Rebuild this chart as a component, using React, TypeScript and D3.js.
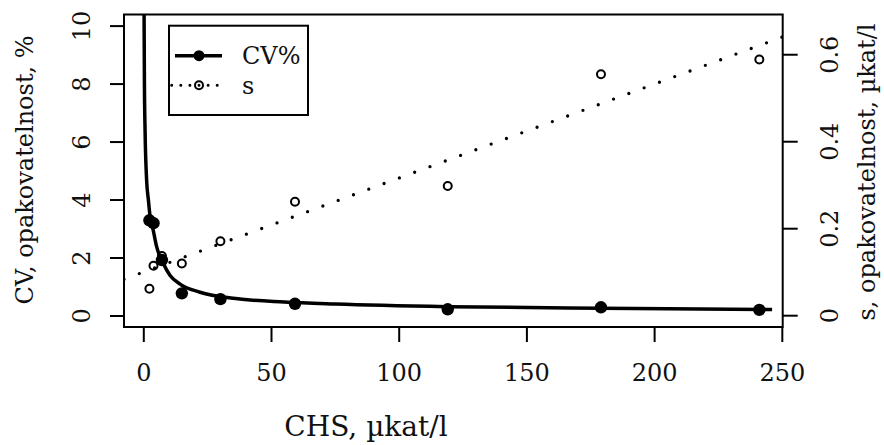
import React from 'react';
import * as d3 from 'd3';

// measured samples: CHS activity, CV% and s (repeatability)
const chs = [2.2, 3.8, 7.1, 14.9, 30, 59.2, 119, 179, 241];
const cvValues = [3.3, 3.2, 1.93, 0.78, 0.58, 0.42, 0.23, 0.3, 0.21];
const sValues = [0.062, 0.115, 0.137, 0.12, 0.171, 0.262, 0.298, 0.555, 0.589];

// fitted CV curve
const fitX = [0.1, 0.25, 0.5, 1.1, 1.8, 2.5, 3.7, 5.0, 7.6, 10.3, 14.2, 22, 36, 55, 75, 119, 179, 246];
const fitCv = [10.6, 8.0, 6.4, 4.7, 4.0, 3.4, 2.95, 2.4, 1.82, 1.4, 1.1, 0.82, 0.6, 0.48, 0.41, 0.32, 0.27, 0.22];

// regression line for s (spans the whole plot region)
const sLineX = [-7.75, 250.15];
const sLineS = [0.084, 0.641];

const xTicks = [0, 50, 100, 150, 200, 250];
const cvTicks = [0, 2, 4, 6, 8, 10];
const sTicks = [0, 0.2, 0.4, 0.6];

const legendLabels = ['CV%', 's'];

const W = 884;
const H = 445;
const box = { left: 124, top: 14.5, right: 782.7, bottom: 327 };
const FONT = "'DejaVu Serif', serif";

export default function App() {
  const x = d3.scaleLinear().domain([-7.75, 250.15]).range([box.left, box.right]);
  const yCv = d3.scaleLinear().domain([-0.38, 10.4]).range([box.bottom, box.top]);
  const yS = d3.scaleLinear().domain([-0.026, 0.6925]).range([box.bottom, box.top]);

  const fitPts = fitX.map((v, i) => [v, fitCv[i]] as [number, number]);
  const fitLine = d3.line<[number, number]>()
    .x(d => x(d[0]))
    .y(d => yCv(d[1]))
    .curve(d3.curveMonotoneX);

  const sPts = sLineX.map((v, i) => [v, sLineS[i]] as [number, number]);
  const sLine = d3.line<[number, number]>()
    .x(d => x(d[0]))
    .y(d => yS(d[1]));

  const tickLen = 15;
  const lg = { x: 169, y: 25.7, w: 139, h: 89.3 };

  return (
    <div style={{ position: 'fixed', left: 0, top: 0 }}>
      <svg width={W} height={H} viewBox={`0 0 ${W} ${H}`} style={{ display: 'block', background: '#fff' }}>
        <defs>
          <clipPath id="plotClip">
            <rect x={box.left} y={box.top} width={box.right - box.left} height={box.bottom - box.top} />
          </clipPath>
        </defs>
        <rect width={W} height={H} fill="#fff" />

        {/* x axis */}
        {xTicks.map(t => (
          <g key={'x' + t}>
            <line x1={x(t)} x2={x(t)} y1={box.bottom} y2={box.bottom + tickLen} stroke="#000" strokeWidth={2} />
            <text x={x(t)} y={381} textAnchor="middle" fontFamily={FONT} fontSize={24} fill="#111">{t}</text>
          </g>
        ))}
        <text x={366} y={436} textAnchor="middle" fontFamily={FONT} fontSize={28} fill="#111">CHS, µkat/l</text>

        {/* left axis */}
        {cvTicks.map(t => (
          <g key={'l' + t}>
            <line x1={box.left - tickLen + 1} x2={box.left} y1={yCv(t)} y2={yCv(t)} stroke="#000" strokeWidth={2} />
            <text transform={`translate(90,${yCv(t)}) rotate(-90)`} textAnchor="middle" fontFamily={FONT} fontSize={24} fill="#111">{t}</text>
          </g>
        ))}
        <text transform={`translate(33,170) rotate(-90)`} textAnchor="middle" fontFamily={FONT} fontSize={24} fill="#111">CV, opakovatelnost, %</text>

        {/* right axis */}
        {sTicks.map(t => (
          <g key={'r' + t}>
            <line x1={box.right} x2={box.right + tickLen} y1={yS(t)} y2={yS(t)} stroke="#000" strokeWidth={2} />
            <text transform={`translate(838,${yS(t)}) rotate(-90)`} textAnchor="middle" fontFamily={FONT} fontSize={24} fill="#111">{t === 0 ? '0' : t.toFixed(1)}</text>
          </g>
        ))}
        <text transform={`translate(875,172) rotate(-90)`} textAnchor="middle" fontFamily={FONT} fontSize={24} fill="#111">s, opakovatelnost, µkat/l</text>

        {/* data */}
        <g clipPath="url(#plotClip)">
          <path d={sLine(sPts) || ''} fill="none" stroke="#000" strokeWidth={3.3} strokeLinecap="round" strokeDasharray="0 16.3" />
          <path d={fitLine(fitPts) || ''} fill="none" stroke="#000" strokeWidth={3.5} />
        </g>
        {chs.map((v, i) => (
          <circle key={'cv' + i} cx={x(v)} cy={yCv(cvValues[i])} r={6.2} fill="#000" />
        ))}
        {chs.map((v, i) => (
          <circle key={'s' + i} cx={x(v)} cy={yS(sValues[i])} r={4} fill="none" stroke="#000" strokeWidth={2} />
        ))}

        {/* plot box */}
        <rect x={box.left} y={box.top} width={box.right - box.left} height={box.bottom - box.top} fill="none" stroke="#000" strokeWidth={2} />

        {/* legend */}
        <rect x={lg.x} y={lg.y} width={lg.w} height={lg.h} fill="#fff" stroke="#000" strokeWidth={2} />
        <line x1={175} x2={222} y1={55.7} y2={55.7} stroke="#000" strokeWidth={3.5} />
        <circle cx={199} cy={55.7} r={5.5} fill="#000" />
        <text x={242} y={64.3} fontFamily={FONT} fontSize={24} fill="#111">{legendLabels[0]}</text>
        <line x1={171.7} x2={222} y1={85.3} y2={85.3} stroke="#000" strokeWidth={3} strokeLinecap="round" strokeDasharray="0 9.1" />
        <circle cx={199} cy={85.3} r={4} fill="none" stroke="#000" strokeWidth={2} />
        <text x={242} y={94} fontFamily={FONT} fontSize={24} fill="#111">{legendLabels[1]}</text>
      </svg>
    </div>
  );
}
